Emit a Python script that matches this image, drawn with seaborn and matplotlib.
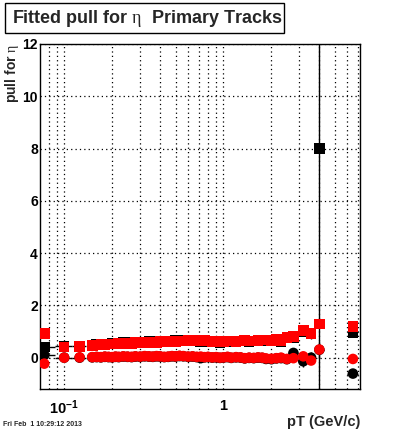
import numpy as np
import pandas as pd
import matplotlib
matplotlib.use("Agg")
import matplotlib.pyplot as plt
import matplotlib.ticker as mticker
from matplotlib.patches import Rectangle
import seaborn as sns

# pT bin centres (GeV/c)
pt = [0.075, 0.1, 0.125, 0.15, 0.16, 0.17, 0.18, 0.19, 0.2, 0.21,
      0.22, 0.235, 0.25, 0.265, 0.28, 0.3, 0.32, 0.34, 0.36, 0.38,
      0.4, 0.425, 0.45, 0.475, 0.5, 0.53, 0.56, 0.6, 0.64, 0.68,
      0.72, 0.76, 0.8, 0.85, 0.9, 0.95, 1.0, 1.06, 1.12, 1.2,
      1.28, 1.36, 1.45, 1.55, 1.65, 1.75, 1.85, 2.0, 2.15, 2.3,
      2.5, 2.75, 3.17, 3.55, 4.0, 6.5]
pt_halfwidth = [0.0125, 0.0125, 0.0125, 0.005, 0.005, 0.005, 0.005, 0.005, 0.005, 0.005,
                0.0075, 0.0075, 0.0075, 0.0075, 0.01, 0.01, 0.01, 0.01, 0.01, 0.01,
                0.0125, 0.0125, 0.0125, 0.0125, 0.015, 0.015, 0.02, 0.02, 0.02, 0.02,
                0.02, 0.02, 0.025, 0.025, 0.025, 0.025, 0.03, 0.03, 0.04, 0.04,
                0.04, 0.045, 0.05, 0.05, 0.05, 0.05, 0.075, 0.075, 0.075, 0.1,
                0.125, 0.2, 0.2, 0.2, 0.25, 0.5]

# fitted sigma (squares) and mean (circles) of the pull
black_sigma = [0.41, 0.43, 0.43, 0.48, 0.5, 0.51, 0.52, 0.53, 0.54, 0.55,
               0.55, 0.57, 0.58, 0.57, 0.6, 0.59, 0.6, 0.61, 0.62, 0.6,
               0.62, 0.63, 0.63, 0.64, 0.65, 0.64, 0.66, 0.66, 0.67, 0.65,
               0.6, 0.63, 0.62, 0.6, 0.61, 0.58, 0.6, 0.63, 0.62, 0.6,
               0.63, 0.64, 0.62, 0.63, 0.65, 0.66, 0.65, 0.64, 0.68, 0.62,
               0.76, 0.78, 1.0, 0.9, 8.0, 0.97]
black_sigma_err = [0.02, 0.01, 0.01, 0.01, 0.01, 0.01, 0.01, 0.01, 0.01, 0.01,
                   0.01, 0.01, 0.01, 0.01, 0.01, 0.01, 0.01, 0.01, 0.01, 0.01,
                   0.01, 0.01, 0.01, 0.01, 0.01, 0.01, 0.01, 0.01, 0.01, 0.01,
                   0.01, 0.01, 0.01, 0.01, 0.01, 0.01, 0.02, 0.02, 0.02, 0.02,
                   0.02, 0.02, 0.02, 0.03, 0.03, 0.03, 0.03, 0.04, 0.04, 0.05,
                   0.06, 0.08, 0.15, 0.2, 10.0, 0.05]
black_mean = [0.1, 0.0, 0.0, 0.01, 0.02, 0.01, 0.03, 0.02, 0.01, 0.03,
              0.02, 0.04, 0.03, 0.02, 0.04, 0.03, 0.05, 0.04, 0.03, 0.05,
              0.04, 0.02, 0.03, 0.05, 0.04, 0.06, 0.05, 0.03, 0.04, 0.02,
              -0.02, 0.01, 0.02, 0.0, 0.01, -0.01, 0.0, 0.02, -0.01, 0.01,
              0.0, -0.03, -0.01, -0.02, 0.0, -0.01, -0.05, -0.06, -0.03, -0.02,
              -0.06, 0.18, -0.14, 0.0, 0.3, -0.61]
black_mean_err = [0.02, 0.01, 0.01, 0.01, 0.01, 0.01, 0.01, 0.01, 0.01, 0.01,
                  0.01, 0.01, 0.01, 0.01, 0.01, 0.01, 0.01, 0.01, 0.01, 0.01,
                  0.01, 0.01, 0.01, 0.01, 0.01, 0.01, 0.01, 0.01, 0.01, 0.01,
                  0.01, 0.01, 0.01, 0.01, 0.01, 0.01, 0.02, 0.02, 0.02, 0.02,
                  0.02, 0.02, 0.02, 0.03, 0.03, 0.03, 0.03, 0.04, 0.04, 0.05,
                  0.06, 0.1, 0.2, 0.2, 0.3, 0.05]
red_sigma = [0.92, 0.41, 0.42, 0.47, 0.49, 0.5, 0.5, 0.52, 0.53, 0.52,
             0.54, 0.55, 0.56, 0.55, 0.57, 0.58, 0.57, 0.59, 0.6, 0.59,
             0.61, 0.6, 0.62, 0.63, 0.62, 0.64, 0.63, 0.65, 0.64, 0.66,
             0.63, 0.65, 0.64, 0.62, 0.63, 0.61, 0.62, 0.64, 0.63, 0.62,
             0.64, 0.65, 0.63, 0.64, 0.66, 0.68, 0.67, 0.66, 0.7, 0.64,
             0.78, 0.8, 1.03, 0.92, 1.29, 1.2]
red_mean = [-0.23, 0.0, 0.01, 0.02, 0.03, 0.02, 0.04, 0.03, 0.02, 0.04,
            0.03, 0.05, 0.04, 0.03, 0.05, 0.04, 0.06, 0.05, 0.04, 0.06,
            0.05, 0.03, 0.04, 0.06, 0.05, 0.07, 0.06, 0.04, 0.05, 0.03,
            0.04, 0.02, 0.03, 0.01, 0.02, 0.0, 0.01, 0.03, 0.0, 0.02,
            0.01, -0.02, 0.0, -0.01, 0.01, 0.0, -0.03, -0.04, -0.02, 0.0,
            -0.05, -0.02, 0.05, -0.11, 0.31, -0.05]

sns.set_style("white")
plt.rcParams['font.family'] = ['Liberation Sans', 'DejaVu Sans']
plt.rcParams['mathtext.fontset'] = 'custom'
plt.rcParams['mathtext.rm'] = 'Liberation Serif'
plt.rcParams['mathtext.bf'] = 'Liberation Sans:bold'

frames = []
for sample, sig, mu in [('black', black_sigma, black_mean), ('red', red_sigma, red_mean)]:
    frames.append(pd.DataFrame({'pt': pt, 'pull': sig, 'sample': sample, 'kind': 'sigma'}))
    frames.append(pd.DataFrame({'pt': pt, 'pull': mu, 'sample': sample, 'kind': 'mean'}))
df = pd.concat(frames, ignore_index=True)

fig = plt.figure(figsize=(4.0, 4.33), dpi=100)
ax = fig.add_axes([0.1, 0.1016, 0.8, 0.7968])

# black points carry error bars
ax.errorbar(pt, black_sigma, yerr=black_sigma_err, xerr=pt_halfwidth,
            fmt='none', ecolor='black', elinewidth=1, zorder=2)
ax.errorbar(pt, black_mean, yerr=black_mean_err, xerr=pt_halfwidth,
            fmt='none', ecolor='black', elinewidth=1, zorder=2)

sns.scatterplot(data=df, x='pt', y='pull', hue='sample', style='kind',
                palette={'black': 'black', 'red': 'red'},
                markers={'sigma': 's', 'mean': 'o'},
                s=58, linewidth=0, legend=False, ax=ax, zorder=3)

ax.set_xscale('log')
ax.set_xlim(0.0705, 7.2)
ax.set_ylim(-1.2, 12)

ax.xaxis.set_major_locator(mticker.FixedLocator([0.1, 1]))
ax.xaxis.set_major_formatter(mticker.FixedFormatter([r'$\mathbf{10^{-1}}$', '1']))
ax.xaxis.set_minor_locator(mticker.LogLocator(base=10, subs=np.arange(2, 10), numticks=20))
ax.xaxis.set_minor_formatter(mticker.NullFormatter())
ax.yaxis.set_major_locator(mticker.MultipleLocator(2))
ax.yaxis.set_minor_locator(mticker.MultipleLocator(0.5))

ax.tick_params(which='both', direction='in', top=False, right=False, colors='black')
ax.tick_params(which='major', length=6, width=1)
ax.tick_params(which='minor', length=3, width=1)
ax.tick_params(axis='y', which='major', pad=1.5, labelsize=10)
ax.tick_params(axis='x', which='major', pad=7, labelsize=10.5)
for lab in ax.get_xticklabels() + ax.get_yticklabels():
    lab.set_fontweight('bold')

ax.grid(True, which='both', axis='x', linestyle=(0, (1, 2.5)), color='black', linewidth=0.9)
ax.grid(True, which='major', axis='y', linestyle=(0, (1, 2.5)), color='black', linewidth=0.9)

for sp in ax.spines.values():
    sp.set_color('black')
    sp.set_linewidth(1)

ax.set_xlabel('')
ax.set_ylabel('')
fig.text(0.9, 0.026, 'pT (GeV/c)', ha='right', va='center', fontsize=10.5, fontweight='bold')
fig.text(0.03, 0.8984, r'pull for $\mathrm{\eta}$', rotation=90, ha='center', va='top',
         fontsize=10, fontweight='bold')
fig.text(0.008, 0.02, 'Fri Feb  1 10:29:12 2013', ha='left', va='center', fontsize=5,
         fontweight='bold')

fig.patches.append(Rectangle((0.0125, 0.9238), 0.6975, 0.0693, transform=fig.transFigure,
                             facecolor='white', edgecolor='black', linewidth=1))
fig.text(0.03, 0.958, r'Fitted pull for $\mathrm{\eta}$  Primary Tracks', ha='left', va='center',
         fontsize=13, fontweight='bold')

fig.savefig('out.png', dpi=100, facecolor='white')
